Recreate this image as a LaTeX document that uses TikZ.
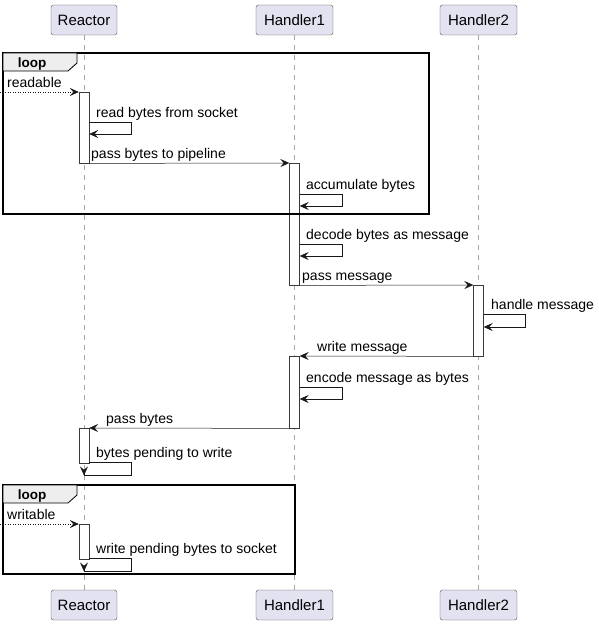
\documentclass[tikz,border=0pt]{standalone}
\usepackage{fontspec}
\setmainfont{Liberation Sans}
\usepackage{xcolor}
\usetikzlibrary{arrows.meta,calc,positioning}
\definecolor{partfill}{HTML}{E2E2F0}
\definecolor{tabfill}{HTML}{EEEEEE}
\definecolor{seqline}{HTML}{181818}

\begin{document}
\begin{tikzpicture}[x=1pt, y=-1pt,
    part/.style={draw=seqline!75, fill=partfill, rounded corners=2.5pt, inner xsep=0pt,
      minimum height=30pt, font=\fontsize{15}{17}\selectfont},
    life/.style={gray!70, dash pattern=on 5pt off 5pt},
    act/.style={draw=seqline!85, fill=white, minimum width=10pt, inner sep=0pt, anchor=north},
    msg/.style={seqline, line width=0.5pt, -{Stealth[length=9pt, width=8pt, inset=3.5pt]}},
    found/.style={msg, dotted},
    lbl/.style={font=\fontsize{14}{16}\selectfont, anchor=base west, inner sep=0pt},
    loopframe/.style={draw=black, line width=1.5pt},
    looptab/.style={draw=black, fill=tabfill, line width=0.8pt}]
    \useasboundingbox (0,0) rectangle (599,626);

    % participants
    \node[part, minimum width=66pt] (reactortop) at (84,20) {Reactor};
    \node[part, minimum width=77pt] (handlera) at (294.5,20) {Handler1};
    \node[part, minimum width=77pt] (handlerb) at (478.5,20) {Handler2};
    \node[part, minimum width=66pt] (reactorbot) at (84,605) {Reactor};
    \node[part, minimum width=77pt] (handlerabot) at (294.5,605) {Handler1};
    \node[part, minimum width=77pt] (handlerbbot) at (478.5,605) {Handler2};
    \draw[life] (reactortop) -- (reactorbot);
    \draw[life] (handlera) -- (handlerabot);
    \draw[life] (handlerb) -- (handlerbbot);

    % activations
    \node[act, minimum height=71pt] (ra) at (84,92) {};
    \node[act, minimum height=122pt] (ha) at (294.5,163) {};
    \node[act, minimum height=71pt] (hb) at (478.5,285) {};
    \node[act, minimum height=72pt] (hc) at (294.5,356) {};
    \node[act, minimum height=35pt] (rb) at (84,428) {};
    \node[act, minimum height=35pt] (rc) at (84,524) {};

    % loop frames
    \draw[loopframe] (3,53) rectangle (429,214);
    \draw[looptab] (3,53) -- (77,53) -- (77,63) -- (68,71) -- (3,71) -- cycle;
    \node[font=\bfseries\fontsize{13.5}{15}\selectfont, inner sep=0pt, anchor=base] (loopa) at (32,67) {loop};
    \draw[loopframe] (3,485) rectangle (295,574);
    \draw[looptab] (3,485) -- (77,485) -- (77,495) -- (68,503) -- (3,503) -- cycle;
    \node[font=\bfseries\fontsize{13.5}{15}\selectfont, inner sep=0pt, anchor=base] (loopb) at (32,499) {loop};

    % messages
    \coordinate (ina) at (0,92);
    \draw[found] (ina) -- (ra.north west);
    \node[lbl] (readable) at (7,87) {readable};

    \draw[msg] ($(ra.north east)+(0,30)$) -- ++(42,0) -- ++(0,12) -- ++(-42,0);
    \node[lbl] (readbytes) at (96,117) {read bytes from socket};

    \draw[msg] (ra.south east) -- (ha.north west);
    \node[lbl] (passpipe) at (91,158) {pass bytes to pipeline};

    \draw[msg] ($(ha.north east)+(0,31)$) -- ++(43,0) -- ++(0,12) -- ++(-43,0);
    \node[lbl] (accum) at (306,189) {accumulate bytes};

    \draw[msg] ($(ha.north east)+(0,81)$) -- ++(43,0) -- ++(0,12) -- ++(-43,0);
    \node[lbl] (decode) at (306,239) {decode bytes as message};

    \draw[msg] (ha.south east) -- (hb.north west);
    \node[lbl] (passmsg) at (302,280) {pass message};

    \draw[msg] ($(hb.north east)+(0,29)$) -- ++(42,0) -- ++(0,13) -- ++(-42,0);
    \node[lbl] (handle) at (491,309) {handle message};

    \draw[msg] (hb.south west) -- (hc.north east);
    \node[lbl] (writemsg) at (317,351) {write message};

    \draw[msg] ($(hc.north east)+(0,31)$) -- ++(43,0) -- ++(0,12) -- ++(-43,0);
    \node[lbl] (encode) at (306,382) {encode message as bytes};

    \draw[msg] (hc.south west) -- (rb.north east);
    \node[lbl] (passbytes) at (106,423) {pass bytes};

    \draw[msg] ($(rb.north east)+(0,34)$) -- ++(42,0) -- ++(0,13) -| ($(rb.south)+(0,12)$);
    \node[lbl] (pending) at (96,457) {bytes pending to write};

    \coordinate (inb) at (0,524);
    \draw[found] (inb) -- (rc.north west);
    \node[lbl] (writable) at (7,519) {writable};

    \draw[msg] ($(rc.north east)+(0,34)$) -- ++(42,0) -- ++(0,13) -| ($(rc.south)+(0,12)$);
    \node[lbl] (writesock) at (96,553) {write pending bytes to socket};
\end{tikzpicture}
\end{document}
